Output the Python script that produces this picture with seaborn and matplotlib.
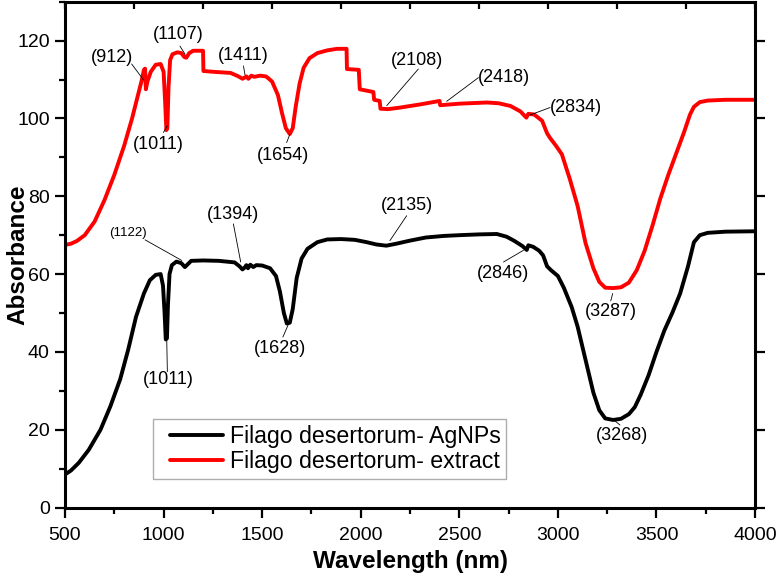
import matplotlib
matplotlib.use("Agg")
from matplotlib import pyplot as plt
from matplotlib.legend_handler import HandlerLine2D
import seaborn as sns

# extract (red) spectrum
extract_nm = [500, 500, 530, 560, 600, 650, 700, 750, 800, 840, 870, 890, 900, 906, 910, 918,
              935, 960, 985, 1000, 1008, 1014, 1019, 1025, 1033, 1045, 1070, 1090, 1105, 1115,
              1130, 1150, 1200, 1202, 1250, 1340, 1380, 1400, 1411, 1420, 1430, 1445, 1460,
              1490, 1520, 1550, 1580, 1600, 1620, 1640, 1655, 1670, 1690, 1710, 1740, 1780,
              1830, 1880, 1928, 1930, 1990, 1995, 2064, 2068, 2096, 2100, 2140, 2200, 2300,
              2400, 2403, 2500, 2640, 2700, 2760, 2810, 2840, 2850, 2880, 2920, 2945, 2960,
              2990, 3020, 3060, 3100, 3140, 3180, 3210, 3240, 3280, 3320, 3360, 3400, 3440,
              3480, 3520, 3560, 3600, 3640, 3670, 3690, 3720, 3760, 3850, 4000]
extract_abs = [77.5, 67.5, 67.8, 68.5, 70, 73.5, 79, 85.5, 93, 100, 106, 110, 112.5, 112.8, 107.5,
               109.5, 112, 113.8, 114, 112, 104, 97, 97.5, 108, 115, 116.5, 117, 116.8, 115.8,
               115.6, 116.8, 117.4, 117.4, 112.2, 112, 111.7, 110.8, 110.2, 110.5, 110.8, 110.2,
               111, 110.7, 111, 110.8, 109.5, 106, 101.5, 97.5, 96, 97.5, 103, 109, 113, 115.5,
               116.8, 117.5, 117.9, 117.9, 112.7, 112.5, 107.5, 106.8, 104.8, 104.5, 102.5,
               102.4, 102.8, 103.6, 104.5, 103.4, 103.8, 104.1, 103.9, 103.2, 101.8, 100.2,
               101.2, 101, 99.4, 96.2, 95, 93, 90.8, 84.5, 77.5, 68, 61.5, 58, 56.5, 56.4, 56.6,
               57.8, 61, 66, 72.5, 79.5, 85.5, 91, 96.5, 101, 103, 104.2, 104.6, 104.8, 104.8]

# AgNPs (black) spectrum
agnp_nm = [500, 530, 570, 620, 680, 730, 780, 820, 860, 900, 930, 960, 985, 997, 1005, 1011,
           1017, 1022, 1030, 1042, 1065, 1090, 1108, 1122, 1140, 1200, 1280, 1360, 1385, 1400,
           1412, 1420, 1428, 1440, 1455, 1470, 1500, 1540, 1570, 1590, 1610, 1625, 1640, 1655,
           1675, 1700, 1730, 1780, 1830, 1900, 1970, 2030, 2080, 2130, 2180, 2250, 2330, 2420,
           2500, 2600, 2690, 2740, 2780, 2820, 2842, 2850, 2875, 2905, 2925, 2945, 2965, 3000,
           3030, 3070, 3100, 3140, 3180, 3210, 3240, 3280, 3320, 3360, 3390, 3420, 3460, 3500,
           3540, 3580, 3620, 3660, 3690, 3720, 3760, 3850, 4000]
agnp_abs = [8.5, 9.5, 11.5, 14.8, 20, 26, 33, 40.5, 49, 55, 58.4, 59.8, 60, 57, 50, 43.2, 43.5,
            52, 60, 62.3, 63.2, 62.8, 61.8, 62.5, 63.4, 63.5, 63.4, 63, 62, 61.2, 61.7, 62.3,
            61.5, 62.4, 61.8, 62.3, 62.2, 61.5, 59.5, 55.5, 50, 47.3, 47.5, 51, 59, 64, 66.5,
            68.2, 68.9, 69, 68.8, 68.2, 67.6, 67.3, 67.8, 68.6, 69.4, 69.8, 70, 70.2, 70.3, 69.6,
            68.5, 67.2, 66.2, 67.4, 67, 66, 64.8, 62, 61, 59.5, 56.5, 51.5, 46.5, 38, 29.5, 25,
            22.9, 22.5, 22.8, 24, 25.8, 29, 34, 40, 45.5, 50, 55, 62, 68.2, 70, 70.6, 70.9, 71]

# peak labels: text, label centre, leader start, leader end (on the curve)
peak_labels = ["(912)", "(1011)", "(1107)", "(1411)", "(1654)", "(2108)", "(2418)", "(2834)",
               "(3287)", "(1122)", "(1394)", "(1011)", "(1628)", "(2135)", "(2846)", "(3268)"]
label_xy = [(737, 115.7), (973, 93.3), (1075, 121.6), (1405, 116.3), (1608, 90.4),
            (2284, 115), (2724, 110.4), (3092, 102.8), (3268, 50.3), (821, 70.5),
            (1354, 75.3), (1024, 33), (1591, 40.9), (2233, 77.6), (2724, 60.1), (3324, 18.6)]
leader_from = [(838, 114), (999, 96.4), (1083, 118.6), (1405, 113.5), (1624, 93.8),
               (2292, 112.7), (2597, 110.5), (2960, 102.8), (3268, 53.1), (906, 68.8),
               (1354, 72.9), (1019, 34.9), (1605, 43.8), (2233, 75), (2724, 63.1), (3315, 21.2)]
leader_to = [(897, 110), (1019, 98.1), (1109, 116.5), (1413, 111.2), (1641, 96),
             (2132, 103.3), (2436, 104.4), (2859, 100.9), (3278, 55), (1092, 63.5),
             (1391, 63.1), (1016, 43), (1633, 47.1), (2148, 68.6), (2825, 66.1), (3281, 22.6)]

sns.set_style("ticks")
plt.rcParams['font.family'] = ['Liberation Sans', 'DejaVu Sans']
for key in ["text.color", "axes.labelcolor", "xtick.color", "ytick.color", "axes.edgecolor"]:
    plt.rcParams[key] = "black"

fig = plt.figure(figsize=(7.76, 5.80), dpi=100)
ax = fig.add_axes([0.0838, 0.125, 0.8892, 0.872])

sns.lineplot(x=agnp_nm, y=agnp_abs, sort=False, estimator=None, color="black", lw=2.8,
             label="Filago desertorum- AgNPs", ax=ax)
sns.lineplot(x=extract_nm, y=extract_abs, sort=False, estimator=None, color="#ff0000", lw=2.8,
             label="Filago desertorum- extract", ax=ax)

for i, txt in enumerate(peak_labels):
    (x0, y0), (x1, y1) = leader_from[i], leader_to[i]
    ax.plot([x0, x1], [y0, y1], color="black", lw=0.6)
    fs = 9.5 if i == 9 else 13
    ax.text(label_xy[i][0], label_xy[i][1], txt, ha="center", va="center", fontsize=fs)

ax.set_xlim(500, 4000)
ax.set_ylim(0, 130)
ax.set_xticks(range(500, 4001, 500))
ax.set_xticks(range(750, 4000, 500), minor=True)
ax.set_yticks(range(0, 121, 20))
ax.set_yticks(range(10, 131, 20), minor=True)
ax.tick_params(which="major", direction="out", length=7, width=1.6, labelsize=14)
ax.tick_params(which="minor", direction="out", length=4, width=1.6)
ax.tick_params(axis="x", which="major", pad=7)
ax.tick_params(axis="y", which="major", pad=4, right=True)
ax.tick_params(axis="y", which="minor", right=False)
for s in ax.spines.values():
    s.set_linewidth(2.2)
    s.set_visible(True)

# plain ticks on top edge, ten equal steps
top = ax.secondary_xaxis("top", functions=(lambda v: (v - 500) / 350.0, lambda v: v * 350.0 + 500))
top.set_xticks(range(0, 11))
top.tick_params(direction="in", length=5, width=1.6, labeltop=False)

ax.set_xlabel("Wavelength (nm)", fontsize=17.5, fontweight="bold")
ax.set_ylabel("Absorbance", fontsize=17.5, fontweight="bold")
ax.xaxis.set_label_coords(0.5, -0.085)
ax.yaxis.set_label_coords(-0.052, 0.5)

leg = ax.legend(loc="lower left", bbox_to_anchor=(0.128, 0.056), borderaxespad=0,
                fontsize=16.7, frameon=True, fancybox=False, handlelength=2.77,
                handletextpad=0.27, borderpad=0.25, labelspacing=0.1,
                handler_map={matplotlib.lines.Line2D: HandlerLine2D(xpad=0.48)})
leg.get_frame().set_edgecolor("#999999")
leg.get_frame().set_linewidth(1.0)

fig.savefig("out.png", dpi=100)
